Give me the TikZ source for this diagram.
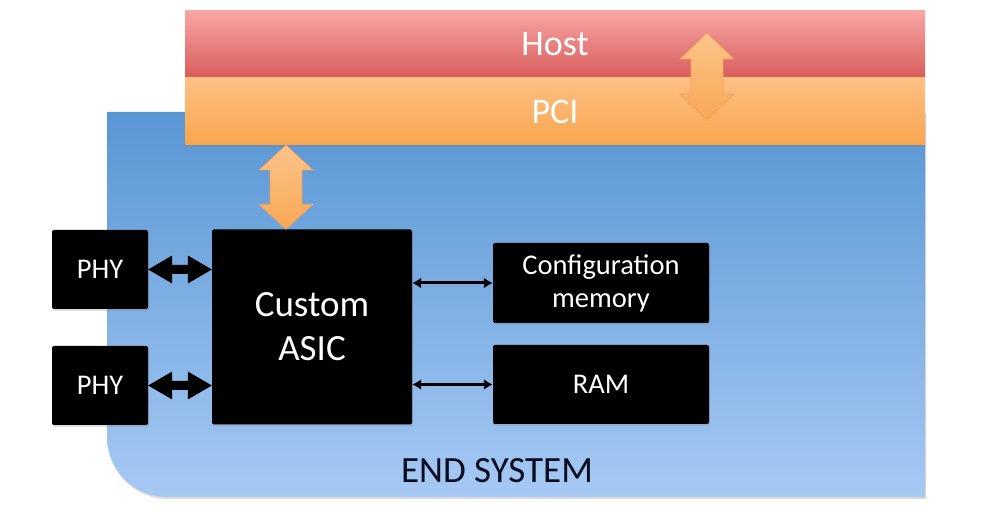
\documentclass[tikz,border=0pt]{standalone}
\usepackage{fontspec}
\setmainfont{Carlito}
\usetikzlibrary{calc,arrows.meta,shadows}
\definecolor{bluetop}{RGB}{88,150,212}
\definecolor{bluebot}{RGB}{166,201,244}
\definecolor{hosttop}{RGB}{248,166,166}
\definecolor{hostbot}{RGB}{216,92,90}
\definecolor{pcitop}{RGB}{253,192,132}
\definecolor{pcibot}{RGB}{249,165,78}
\definecolor{arrtop}{RGB}{253,196,138}
\definecolor{arrbot}{RGB}{248,168,84}
\definecolor{arredge}{RGB}{236,160,90}
\definecolor{navytext}{RGB}{10,12,30}
\newcommand{\myHArrow}[6]{%
  \path[#1] let \p1=#2, \p2=#3 in (\x1,\y1) -- (\x1+#6,\y1+#5) -- (\x1+#6,\y1+#4)
  -- (\x2-#6,\y2+#4) -- (\x2-#6,\y2+#5) -- (\x2,\y2) -- (\x2-#6,\y2-#5)
  -- (\x2-#6,\y2-#4) -- (\x1+#6,\y1-#4) -- (\x1+#6,\y1-#5) -- cycle;}
\newcommand{\myVArrow}[6]{%
  \path[#1] let \p1=#2, \p2=#3 in (\x1,\y1) -- (\x1+#5,\y1-#6) -- (\x1+#4,\y1-#6)
  -- (\x2+#4,\y2+#6) -- (\x2+#5,\y2+#6) -- (\x2,\y2) -- (\x2-#5,\y2+#6)
  -- (\x2-#4,\y2+#6) -- (\x1-#4,\y1-#6) -- (\x1-#5,\y1-#6) -- cycle;}
\tikzset{
  blackbox/.style={fill=black, rounded corners=2pt, text=white, align=center,
    font=\fontsize{28.5}{33}\selectfont, inner sep=0pt,
    drop shadow={opacity=0.25, shadow xshift=1pt, shadow yshift=-2pt}},
  barbox/.style={inner sep=0pt, text=white, font=\fontsize{36}{40}\selectfont,
    minimum width=740pt, minimum height=67pt},
  orangearrow/.style={top color=arrtop, bottom color=arrbot, draw=arredge, line width=0.6pt},
  thinlink/.style={line width=3pt, {Latex[length=9pt,width=11pt]}-{Latex[length=9pt,width=11pt]}},
}
\begin{document}
\begin{tikzpicture}[x=1pt,y=1pt]
\useasboundingbox (0,0) rectangle (986,-510);
% end system background
\path[top color=bluetop, bottom color=bluebot,
      drop shadow={opacity=0.3, shadow xshift=1pt, shadow yshift=-2pt}]
  (107,-112) -- (925,-112) -- (925,-497) -- (167,-497)
  arc[start angle=270, end angle=180, radius=60] -- cycle;
\node[font=\fontsize{37}{40}\selectfont, text=navytext] (endsys) at (497,-471) {END SYSTEM};
% host and pci bars
\node[barbox, top color=hosttop, bottom color=hostbot] (host) at (555,-44.5) {Host};
\node[barbox, top color=pcitop, bottom color=pcibot,
      drop shadow={opacity=0.3, shadow xshift=0pt, shadow yshift=-2pt}] (pci) at (555,-111.5) {PCI};
% blocks
\node[blackbox, minimum width=96pt, minimum height=79pt] (phy1) at (100,-269.5) {PHY};
\node[blackbox, minimum width=96pt, minimum height=79pt] (phy2) at (100,-385.5) {PHY};
\node[blackbox, minimum width=200pt, minimum height=195pt,
      font=\fontsize{37}{44}\selectfont] (asic) at (312,-327) {Custom\\ASIC};
\node[blackbox, minimum width=216pt, minimum height=80pt] (config) at (601,-283) {Configuration\\memory};
\node[blackbox, minimum width=216pt, minimum height=79pt] (ram) at (601,-384.5) {RAM};
% orange arrows
\coordinate (hpTop) at (707,-33);
\coordinate (hpBot) at (707,-120);
\myVArrow{orangearrow}{(hpTop)}{(hpBot)}{16pt}{27pt}{26pt}
\coordinate (paTop) at (286,-145);
\coordinate (paBot) at (asic.north -| paTop);
\myVArrow{orangearrow}{(paTop)}{(paBot)}{16pt}{27pt}{25pt}
% black fat arrows phy <-> asic
\myHArrow{fill=black}{(phy1.east)}{(asic.west |- phy1.east)}{4.5pt}{14pt}{24pt}
\myHArrow{fill=black}{(phy2.east)}{(asic.west |- phy2.east)}{4.5pt}{14pt}{24pt}
% thin links
\draw[thinlink] (asic.east |- config.west) -- (config.west);
\draw[thinlink] (asic.east |- ram.west) -- (ram.west);
\end{tikzpicture}
\end{document}
